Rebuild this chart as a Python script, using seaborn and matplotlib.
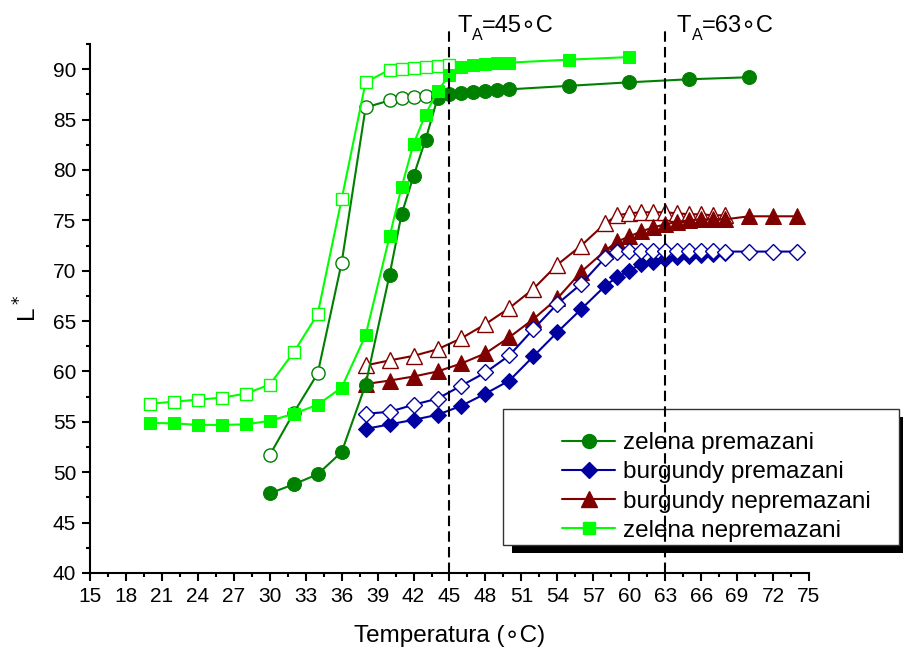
import matplotlib
matplotlib.use('Agg')
import matplotlib.pyplot as plt
import seaborn as sns
from matplotlib.lines import Line2D
from matplotlib.patches import Rectangle
from matplotlib.ticker import MultipleLocator

# zelena premazani (filled circles) / open circles
zp_x = [30, 32, 34, 36, 38, 40, 41, 42, 43, 44, 45, 46, 47, 48, 49, 50, 55, 60, 65, 70]
zp_y = [47.9, 48.8, 49.8, 52.0, 58.7, 69.6, 75.6, 79.4, 83.0, 87.1, 87.5, 87.6, 87.7, 87.8, 87.9, 88.0, 88.35, 88.7, 89.0, 89.2]
zp2_x = [30, 32, 34, 36, 38, 40, 41, 42, 43, 44]
zp2_y = [51.7, 55.9, 59.8, 70.8, 86.2, 86.9, 87.1, 87.2, 87.3, 87.4]

# burgundy premazani (filled diamonds) / open diamonds
bp_x = [38, 40, 42, 44, 46, 48, 50, 52, 54, 56, 58, 59, 60, 61, 62, 63, 64, 65, 66, 67, 68]
bp_y = [54.3, 54.75, 55.2, 55.7, 56.6, 57.8, 59.1, 61.5, 63.9, 66.2, 68.5, 69.4, 70.0, 70.7, 70.9, 71.2, 71.4, 71.5, 71.6, 71.7, 71.8]
bp2_x = [38, 40, 42, 44, 46, 48, 50, 52, 54, 56, 58, 59, 60, 61, 62, 63, 64, 65, 66, 67, 68, 70, 72, 74]
bp2_y = [55.8, 56.0, 56.7, 57.3, 58.6, 59.9, 61.6, 64.2, 66.7, 68.7, 71.3, 71.9, 71.95, 72.0, 72.0, 72.0, 72.0, 72.0, 72.0, 72.0, 71.9, 71.9, 71.9, 71.9]

# burgundy nepremazani (filled triangles) / open triangles
bn_x = [38, 40, 42, 44, 46, 48, 50, 52, 54, 56, 58, 59, 60, 61, 62, 63, 64, 65, 66, 67, 68, 70, 72, 74]
bn_y = [58.75, 59.1, 59.5, 60.0, 60.8, 61.8, 63.4, 65.2, 67.25, 69.9, 72.0, 72.9, 73.4, 73.9, 74.3, 74.6, 74.85, 75.0, 75.1, 75.1, 75.1, 75.4, 75.4, 75.4]
bn2_x = [38, 40, 42, 44, 46, 48, 50, 52, 54, 56, 58, 59, 60, 61, 62, 63, 64, 65, 66, 67, 68]
bn2_y = [60.6, 61.1, 61.55, 62.2, 63.3, 64.7, 66.3, 68.2, 70.6, 72.5, 74.7, 75.5, 75.7, 75.8, 75.8, 75.8, 75.7, 75.6, 75.6, 75.5, 75.5]

# zelena nepremazani (filled squares) / open squares
zn_x = [20, 22, 24, 26, 28, 30, 32, 34, 36, 38, 40, 41, 42, 43, 44, 45, 46, 47, 48, 49, 50, 55, 60]
zn_y = [54.9, 54.85, 54.7, 54.7, 54.75, 55.1, 55.8, 56.7, 58.4, 63.6, 73.4, 78.3, 82.6, 85.5, 87.85, 89.4, 90.2, 90.4, 90.55, 90.6, 90.65, 90.95, 91.2]
zn2_x = [20, 22, 24, 26, 28, 30, 32, 34, 36, 38, 40, 41, 42, 43, 44, 45]
zn2_y = [56.8, 57.0, 57.2, 57.4, 57.8, 58.7, 61.9, 65.7, 77.1, 88.7, 89.95, 90.0, 90.1, 90.2, 90.3, 90.4]

labels = ['zelena premazani', 'burgundy premazani', 'burgundy nepremazani', 'zelena nepremazani']
ta_temps = [45, 63]
c_dg, c_bl, c_rd, c_lg = '#008000', '#0000A0', '#800000', '#00FF00'

sns.set_style('white')
plt.rcParams['font.family'] = ['Liberation Sans', 'DejaVu Sans']
for k in ['text.color', 'axes.labelcolor', 'xtick.color', 'ytick.color']:
    plt.rcParams[k] = 'black'

fig = plt.figure(figsize=(9.04, 6.57), dpi=100)
ax = fig.add_axes([90 / 904, 1 - 573 / 657, 719 / 904, 529 / 657])

lw = 1.5
# open (second) series first
sns.lineplot(x=zp2_x, y=zp2_y, ax=ax, color=c_dg, lw=lw, marker='o', markersize=9.5,
             markerfacecolor='white', markeredgecolor=c_dg, markeredgewidth=1.0, sort=False)
sns.lineplot(x=zn2_x, y=zn2_y, ax=ax, color=c_lg, lw=lw, marker='s', markersize=9,
             markerfacecolor='white', markeredgecolor=c_lg, markeredgewidth=1.0, sort=False)
sns.lineplot(x=bn2_x, y=bn2_y, ax=ax, color=c_rd, lw=lw, marker='^', markersize=11,
             markerfacecolor='white', markeredgecolor=c_rd, markeredgewidth=1.0, sort=False)
sns.lineplot(x=bn_x, y=bn_y, ax=ax, color=c_rd, lw=lw, marker='^', markersize=11,
             markerfacecolor=c_rd, markeredgecolor=c_rd, sort=False)
sns.lineplot(x=bp_x, y=bp_y, ax=ax, color=c_bl, lw=lw, marker='D', markersize=8.5,
             markerfacecolor=c_bl, markeredgecolor=c_bl, sort=False)
sns.lineplot(x=bp2_x, y=bp2_y, ax=ax, color=c_bl, lw=lw, marker='D', markersize=8.5,
             markerfacecolor='white', markeredgecolor=c_bl, markeredgewidth=1.0, sort=False)
sns.lineplot(x=zp_x, y=zp_y, ax=ax, color=c_dg, lw=lw, marker='o', markersize=10,
             markerfacecolor=c_dg, markeredgecolor=c_dg, sort=False)
sns.lineplot(x=zn_x, y=zn_y, ax=ax, color=c_lg, lw=lw, marker='s', markersize=9,
             markerfacecolor=c_lg, markeredgecolor=c_lg, sort=False)

# annealing temperatures: dashed lines and T_A labels
for t, x0 in zip(ta_temps, [457, 677]):
    ax.plot([t, t], [40, 93.9], color='black', lw=1.5, dashes=(5, 2.5), clip_on=False, zorder=20)
    fig.text(x0 / 904, 1 - 32 / 657, 'T', fontsize=17, va='baseline')
    fig.text((x0 + 15) / 904, 1 - 40 / 657, 'A', fontsize=11.5, va='baseline')
    fig.text((x0 + 25) / 904, 1 - 32 / 657, f'={t}∘C', fontsize=17, va='baseline')

ax.set_xlim(15, 75)
ax.set_ylim(40, 92.5)
ax.xaxis.set_major_locator(MultipleLocator(3))
ax.xaxis.set_minor_locator(MultipleLocator(1.5))
ax.yaxis.set_major_locator(MultipleLocator(5))
ax.yaxis.set_minor_locator(MultipleLocator(2.5))
ax.tick_params(which='major', direction='out', length=6, width=1.5, labelsize=15, pad=4,
               bottom=True, left=True)
ax.tick_params(which='minor', direction='out', length=3, width=1.5, bottom=True, left=True)
for s in ['top', 'right']:
    ax.spines[s].set_visible(False)
for s in ['left', 'bottom']:
    ax.spines[s].set_linewidth(1.5)
    ax.spines[s].set_color('black')
ax.set_xlabel('Temperatura (∘C)', fontsize=17.5, labelpad=14)
ax.set_ylabel('L$^*$', fontsize=17.5, labelpad=8)

# legend box with shadow
ax.add_patch(Rectangle((512 / 904, 1 - 553 / 657), 396 / 904, 136 / 657, transform=fig.transFigure,
                       facecolor='black', edgecolor='none', clip_on=False, zorder=8))
ax.add_patch(Rectangle((503 / 904, 1 - 545 / 657), 396 / 904, 136 / 657, transform=fig.transFigure,
                       facecolor='white', edgecolor='#333333', lw=1.0, clip_on=False, zorder=9))
handles = [
    Line2D([], [], color=c_dg, lw=lw, marker='o', markersize=10),
    Line2D([], [], color=c_bl, lw=lw, marker='D', markersize=8.5),
    Line2D([], [], color=c_rd, lw=lw, marker='^', markersize=11),
    Line2D([], [], color=c_lg, lw=lw, marker='s', markersize=9),
]
leg = ax.legend(handles, labels, loc='upper left', bbox_to_anchor=(562 / 904, 1 - 432 / 657),
                bbox_transform=fig.transFigure, frameon=False, borderpad=0, borderaxespad=0,
                fontsize=17.5, handlelength=2.2, handletextpad=0.3, labelspacing=0.3)
leg.set_zorder(10)

plt.savefig('out.png', dpi=100)
